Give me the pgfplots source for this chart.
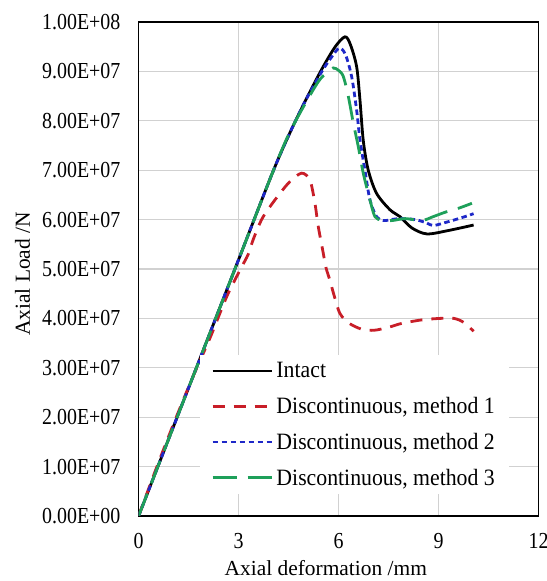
\documentclass[border=0pt]{standalone}
\usepackage{fontspec}
\setmainfont{Liberation Serif}
\newfontfamily\tickfont[FakeStretch=0.87]{Liberation Serif}
\newfontfamily\legfont[FakeStretch=0.93]{Liberation Serif}
\usepackage{pgfplots}
\pgfplotsset{compat=1.18}
\definecolor{cred}{RGB}{200,30,40}
\definecolor{cblue}{RGB}{30,40,200}
\definecolor{cgreen}{RGB}{30,160,90}
\begin{document}
\begin{tikzpicture}
\useasboundingbox (-138.6bp,-65bp) rectangle (408.4bp,516bp);
\begin{axis}[
  at={(0,0)}, anchor=south west,
  scale only axis, width=400bp, height=494bp,
  xmin=0, xmax=12, ymin=0, ymax=100000000,
  xtick={0,3,6,9,12}, xticklabels={0,3,6,9,12},
  ytick={0,10000000,20000000,30000000,40000000,50000000,60000000,70000000,80000000,90000000,100000000},
  yticklabels={0.00E+00,1.00E+07,2.00E+07,3.00E+07,4.00E+07,5.00E+07,6.00E+07,7.00E+07,8.00E+07,9.00E+07,1.00E+08},
  scaled y ticks=false,
  major tick length=0pt,
  grid=major,
  major grid style={draw=black!18, line width=1.3bp},
  axis line style={line width=1.2bp},
  yticklabel style={font=\tickfont\fontsize{23}{26}\selectfont, inner sep=0pt, xshift=-18bp},
  xticklabel style={font=\tickfont\fontsize{23}{26}\selectfont, inner sep=0pt, yshift=-17bp},
  xlabel={Axial deformation /mm},
  ylabel={Axial Load /N},
  xlabel style={font=\fontsize{21.5}{24}\selectfont, at={(axis description cs:0.468,-0.105)}, anchor=center},
  ylabel style={font=\fontsize{21.5}{24}\selectfont, at={(axis description cs:-0.29,0.49)}, anchor=center},
  legend cell align=left,
  legend image code/.code={\draw[#1] (0bp,0bp) -- (59bp,0bp);},
  legend style={at={(rel axis cs:0.1535,0.326)}, anchor=north west, draw=none, fill=white,
    font=\legfont\fontsize{23.5}{26}\selectfont, inner xsep=11bp, inner ysep=4bp,
    row sep=11bp, nodes={inner sep=3.5bp}},
]
\addplot[black, line width=2.8bp, smooth] coordinates {
(0,0) (1,1.73e7) (2,3.46e7) (3,5.19e7) (4,6.92e7) (4.5,7.7e7) (5.0,8.4e7) (5.5,9.05e7) (5.9,9.5e7) (6.19,9.7e7) (6.35,9.55e7) (6.54,9.1e7) (6.64,8.43e7) (6.74,7.6e7) (6.89,7.0e7) (7.14,6.53e7) (7.54,6.2e7) (7.84,6.06e7) (8.2,5.83e7) (8.65,5.71e7) (9.3,5.78e7) (10.05,5.89e7)
};
\addlegendentry{Intact}
\addplot[cred, line width=2.8bp, dash pattern=on 12bp off 9bp, smooth] coordinates {
(0,0) (0.55,1.0e7) (1.1,1.95e7) (1.65,2.85e7) (2.14,3.6e7) (2.65,4.45e7) (3.06,5.0e7) (3.29,5.3e7) (3.44,5.6e7) (3.69,6.0e7) (3.94,6.26e7) (4.24,6.53e7) (4.54,6.77e7) (4.89,6.94e7) (5.14,6.8e7) (5.29,6.33e7) (5.39,5.86e7) (5.54,5.32e7) (5.62,5.03e7) (5.75,4.75e7) (5.85,4.5e7) (6.04,4.1e7) (6.32,3.9e7) (6.7,3.78e7) (7.07,3.76e7) (7.5,3.82e7) (7.9,3.9e7) (8.5,3.97e7) (9.05,4.0e7) (9.46,4.0e7) (9.75,3.92e7) (10.05,3.74e7)
};
\addlegendentry{Discontinuous, method 1}
\addplot[cblue, line width=2.8bp, dash pattern=on 5.5bp off 3.5bp, smooth] coordinates {
(0,0) (1,1.73e7) (2,3.46e7) (3,5.19e7) (4,6.92e7) (4.5,7.7e7) (5.0,8.4e7) (5.5,9.0e7) (5.8,9.3e7) (6.02,9.47e7) (6.2,9.35e7) (6.39,8.9e7) (6.54,8.22e7) (6.64,7.62e7) (6.79,7.0e7) (6.94,6.4e7) (7.14,6.06e7) (7.35,5.98e7) (7.8,6.02e7) (8.3,6.0e7) (8.65,5.93e7) (8.85,5.88e7) (9.3,5.96e7) (9.7,6.04e7) (10.05,6.12e7)
};
\addlegendentry{Discontinuous, method 2}
\addplot[cgreen, line width=2.8bp, dash pattern=on 24bp off 11bp, smooth] coordinates {
(0,0) (1,1.73e7) (2,3.46e7) (3,5.19e7) (4,6.92e7) (4.5,7.72e7) (5.0,8.35e7) (5.4,8.8e7) (5.65,8.98e7) (5.84,9.07e7) (6.0,9.02e7) (6.14,8.9e7) (6.29,8.5e7) (6.44,7.96e7) (6.59,7.48e7) (6.74,6.94e7) (6.94,6.4e7) (7.09,6.06e7) (7.29,5.99e7) (7.6,5.98e7) (8.0,6.02e7) (8.5,5.98e7) (8.8,6.05e7) (9.2,6.15e7) (9.6,6.23e7) (10.0,6.33e7)
};
\addlegendentry{Discontinuous, method 3}
\end{axis}
\end{tikzpicture}
\end{document}
